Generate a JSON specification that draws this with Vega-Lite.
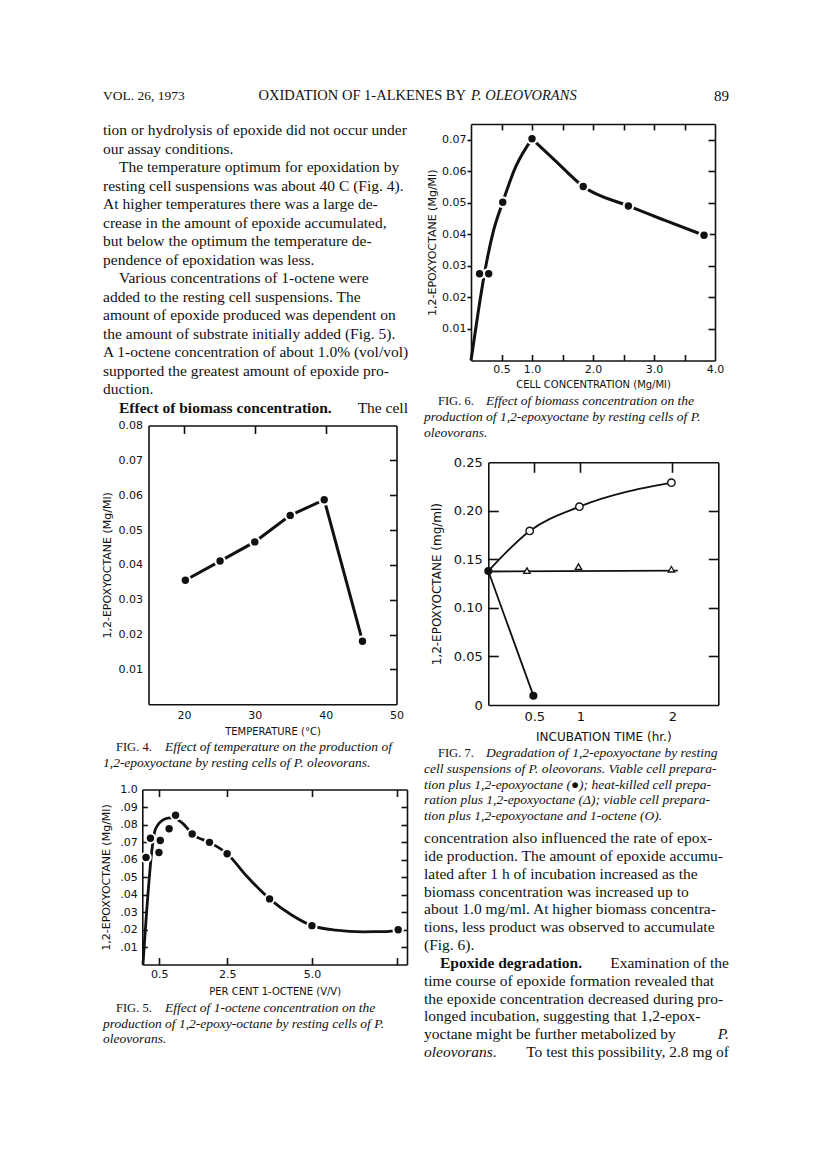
{
"$schema": "https://vega.github.io/schema/vega-lite/v6.json",
"width": 816, "height": 1172, "padding": 0, "autosize": {"type": "none"}, "background": "white",
"config": {
 "view": {"stroke": null},
 "axis": {"grid": false, "domainColor": "#111", "domainWidth": 1.6, "tickColor": "#111", "tickWidth": 1.6, "labelColor": "#111", "labelFont": "DejaVu Sans", "labelFontSize": 11, "titleColor": "#111", "titleFont": "DejaVu Sans", "titleFontSize": 10, "titleFontWeight": "normal", "labelFlush": false, "labelOverlap": false, "labelBound": false, "zindex": 1},
 "text": {"font": "Liberation Serif", "fontSize": 15.5, "color": "#111", "baseline": "middle"},
 "point": {"opacity": 1}
},
"datasets": {
 "hdrL": [{"line": 1, "text": "VOL. 26, 1973"}],
 "hdrR": [{"line": 1, "text": "89"}],
 "hdrTitle": [{"line": 1, "text": "OXIDATION OF 1-ALKENES BY"}],
 "hdrTitleIt": [{"line": 1, "text": "P. OLEOVORANS"}],
 "bodyL": [
  {"line": 1, "text": "tion or hydrolysis of epoxide did not occur under"},
  {"line": 2, "text": "our assay conditions."},
  {"line": 4, "text": "resting cell suspensions was about 40 C (Fig. 4)."},
  {"line": 5, "text": "At higher temperatures there was a large de-"},
  {"line": 6, "text": "crease in the amount of epoxide accumulated,"},
  {"line": 7, "text": "but below the optimum the temperature de-"},
  {"line": 8, "text": "pendence of epoxidation was less."},
  {"line": 10, "text": "added to the resting cell suspensions. The"},
  {"line": 11, "text": "amount of epoxide produced was dependent on"},
  {"line": 12, "text": "the amount of substrate initially added (Fig. 5)."},
  {"line": 13, "text": "A 1-octene concentration of about 1.0% (vol/vol)"},
  {"line": 14, "text": "supported the greatest amount of epoxide pro-"},
  {"line": 15, "text": "duction."}
 ],
 "bodyLInd": [
  {"line": 3, "text": "The temperature optimum for epoxidation by"},
  {"line": 9, "text": "Various concentrations of 1-octene were"}
 ],
 "bodyLBold": [{"line": 16, "text": "Effect of biomass concentration."}],
 "bodyLEnd": [{"line": 16, "text": "The cell"}],
 "bodyR": [
  {"line": 1, "text": "concentration also influenced the rate of epox-"},
  {"line": 2, "text": "ide production. The amount of epoxide accumu-"},
  {"line": 3, "text": "lated after 1 h of incubation increased as the"},
  {"line": 4, "text": "biomass concentration was increased up to"},
  {"line": 5, "text": "about 1.0 mg/ml. At higher biomass concentra-"},
  {"line": 6, "text": "tions, less product was observed to accumulate"},
  {"line": 7, "text": "(Fig. 6)."},
  {"line": 9, "text": "time course of epoxide formation revealed that"},
  {"line": 10, "text": "the epoxide concentration decreased during pro-"},
  {"line": 11, "text": "longed incubation, suggesting that 1,2-epox-"},
  {"line": 12, "text": "yoctane might be further metabolized by"}
 ],
 "bodyRBold": [{"line": 8, "text": "Epoxide degradation."}],
 "bodyREnd": [{"line": 8, "text": "Examination of the"}, {"line": 13, "text": "To test this possibility, 2.8 mg of"}],
 "bodyRIt": [{"line": 13, "text": "oleovorans."}],
 "bodyRItEnd": [{"line": 12, "text": "P."}],
 "cap6Fig": [{"line": 1, "text": "FIG. 6."}],
 "cap6Rest": [{"line": 1, "text": "Effect of biomass concentration on the"}],
 "cap6It": [{"line": 2, "text": "production of 1,2-epoxyoctane by resting cells of P."}, {"line": 3, "text": "oleovorans."}],
 "cap4Fig": [{"line": 1, "text": "FIG. 4."}],
 "cap4Rest": [{"line": 1, "text": "Effect of temperature on the production of"}],
 "cap4It": [{"line": 2, "text": "1,2-epoxyoctane by resting cells of P. oleovorans."}],
 "cap7Fig": [{"line": 1, "text": "FIG. 7."}],
 "cap7Rest": [{"line": 1, "text": "Degradation of 1,2-epoxyoctane by resting"}],
 "cap7It": [
  {"line": 2, "text": "cell suspensions of P. oleovorans. Viable cell prepara-"},
  {"line": 3, "text": "tion plus 1,2-epoxyoctane (\u25cf); heat-killed cell prepa-"},
  {"line": 4, "text": "ration plus 1,2-epoxyoctane (\u0394); viable cell prepara-"},
  {"line": 5, "text": "tion plus 1,2-epoxyoctane and 1-octene (O)."}
 ],
 "cap5Fig": [{"line": 1, "text": "FIG. 5."}],
 "cap5Rest": [{"line": 1, "text": "Effect of 1-octene concentration on the"}],
 "cap5It": [{"line": 2, "text": "production of 1,2-epoxy-octane by resting cells of P."}, {"line": 3, "text": "oleovorans."}],
 "f4": [
  {"temp": 20.2, "epox": 0.0356}, {"temp": 25.1, "epox": 0.0411}, {"temp": 30, "epox": 0.0466},
  {"temp": 35, "epox": 0.0542}, {"temp": 39.8, "epox": 0.0587}, {"temp": 45.2, "epox": 0.0181}
 ],
 "f6pts": [
  {"conc": 0.14, "epox": 0.0275}, {"conc": 0.29, "epox": 0.0275}, {"conc": 0.52, "epox": 0.0502},
  {"conc": 1.0, "epox": 0.0703}, {"conc": 1.84, "epox": 0.0552}, {"conc": 2.58, "epox": 0.049}, {"conc": 3.82, "epox": 0.0397}
 ],
 "f6curve": [
  {"seg": "rise", "conc": 0, "epox": 0}, {"seg": "rise", "conc": 0.12, "epox": 0.0156}, {"seg": "rise", "conc": 0.22, "epox": 0.0275},
  {"seg": "rise", "conc": 0.36, "epox": 0.0405}, {"seg": "rise", "conc": 0.52, "epox": 0.0502}, {"seg": "rise", "conc": 0.73, "epox": 0.0613},
  {"seg": "rise", "conc": 1.0, "epox": 0.0703},
  {"seg": "fall", "conc": 1.0, "epox": 0.0703}, {"seg": "fall", "conc": 1.38, "epox": 0.0634}, {"seg": "fall", "conc": 1.84, "epox": 0.0552},
  {"seg": "fall", "conc": 2.58, "epox": 0.049}, {"seg": "fall", "conc": 3.17, "epox": 0.0445}, {"seg": "fall", "conc": 3.82, "epox": 0.0397}
 ],
 "f7viable": [{"t": 0, "epox": 0.138}, {"t": 0.49, "epox": 0.0096}],
 "f7killed": [{"t": 0.42, "epox": 0.1384}, {"t": 0.98, "epox": 0.1425}, {"t": 1.99, "epox": 0.1398}],
 "f7killedLine": [{"t": 0, "epox": 0.1375}, {"t": 2.06, "epox": 0.1385}],
 "f7octene": [{"t": 0.45, "epox": 0.1793}, {"t": 0.99, "epox": 0.2043}, {"t": 1.99, "epox": 0.229}],
 "f7octeneCurve": [{"t": 0, "epox": 0.138}, {"t": 0.45, "epox": 0.1793}, {"t": 0.99, "epox": 0.2043}, {"t": 1.99, "epox": 0.229}],
 "f5pts": [
  {"pct": 0.11, "epox": 0.0612}, {"pct": 0.24, "epox": 0.0721}, {"pct": 0.49, "epox": 0.064}, {"pct": 0.53, "epox": 0.0709},
  {"pct": 0.79, "epox": 0.0776}, {"pct": 0.98, "epox": 0.0853}, {"pct": 1.47, "epox": 0.0746}, {"pct": 1.98, "epox": 0.0698},
  {"pct": 2.5, "epox": 0.0633}, {"pct": 3.75, "epox": 0.0375}, {"pct": 5.0, "epox": 0.0222}, {"pct": 7.54, "epox": 0.0199}
 ],
 "f5curve": [
  {"pct": 0.02, "epox": 0}, {"pct": 0.3, "epox": 0.068}, {"pct": 0.36, "epox": 0.0755}, {"pct": 0.45, "epox": 0.0795},
  {"pct": 0.6, "epox": 0.0825}, {"pct": 0.8, "epox": 0.0838}, {"pct": 0.95, "epox": 0.0835}, {"pct": 1.2, "epox": 0.0805},
  {"pct": 1.47, "epox": 0.0746}, {"pct": 1.98, "epox": 0.0698}, {"pct": 2.5, "epox": 0.0633}, {"pct": 3.1, "epox": 0.05},
  {"pct": 3.75, "epox": 0.0375}, {"pct": 4.4, "epox": 0.0283}, {"pct": 5.0, "epox": 0.0222}, {"pct": 5.7, "epox": 0.0196},
  {"pct": 6.5, "epox": 0.0187}, {"pct": 7.2, "epox": 0.0188}, {"pct": 7.54, "epox": 0.0199}
 ]
},
"layer": [
 {"layer": [
  {"data": {"name": "hdrL"}, "mark": {"type": "text", "align": "left", "fontSize": 13.5},
   "encoding": {"x": {"datum": "a", "type": "nominal", "scale": {"type": "point", "domain": ["a"], "range": [103, 103], "padding": 0}, "axis": null},
    "y": {"field": "line", "type": "quantitative", "scale": {"domain": [1, 2], "range": [96, 112], "nice": false, "zero": false}, "axis": null},
    "text": {"field": "text", "type": "nominal"}}},
  {"data": {"name": "hdrR"}, "mark": {"type": "text", "align": "right", "fontSize": 15},
   "encoding": {"x": {"datum": "a", "type": "nominal", "scale": {"type": "point", "domain": ["a"], "range": [729, 729], "padding": 0}, "axis": null},
    "y": {"field": "line", "type": "quantitative", "scale": {"domain": [1, 2], "range": [96, 112], "nice": false, "zero": false}, "axis": null},
    "text": {"field": "text", "type": "nominal"}}},
  {"data": {"name": "hdrTitle"}, "mark": {"type": "text", "align": "right", "fontSize": 14.5},
   "encoding": {"x": {"datum": "a", "type": "nominal", "scale": {"type": "point", "domain": ["a"], "range": [466, 466], "padding": 0}, "axis": null},
    "y": {"field": "line", "type": "quantitative", "scale": {"domain": [1, 2], "range": [96, 112], "nice": false, "zero": false}, "axis": null},
    "text": {"field": "text", "type": "nominal"}}},
  {"data": {"name": "hdrTitleIt"}, "mark": {"type": "text", "align": "left", "fontSize": 14.5, "fontStyle": "italic"},
   "encoding": {"x": {"datum": "a", "type": "nominal", "scale": {"type": "point", "domain": ["a"], "range": [471, 471], "padding": 0}, "axis": null},
    "y": {"field": "line", "type": "quantitative", "scale": {"domain": [1, 2], "range": [96, 112], "nice": false, "zero": false}, "axis": null},
    "text": {"field": "text", "type": "nominal"}}}
 ], "resolve": {"scale": {"x": "independent"}}},
 {"layer": [
  {"data": {"name": "bodyL"}, "mark": {"type": "text", "align": "left"},
   "encoding": {"x": {"datum": "a", "type": "nominal", "scale": {"type": "point", "domain": ["a"], "range": [103, 103], "padding": 0}, "axis": null},
    "y": {"field": "line", "type": "quantitative", "scale": {"domain": [1, 16], "range": [130, 408], "nice": false, "zero": false}, "axis": null},
    "text": {"field": "text", "type": "nominal"}}},
  {"data": {"name": "bodyLInd"}, "mark": {"type": "text", "align": "left"},
   "encoding": {"x": {"datum": "a", "type": "nominal", "scale": {"type": "point", "domain": ["a"], "range": [119, 119], "padding": 0}, "axis": null},
    "y": {"field": "line", "type": "quantitative", "scale": {"domain": [1, 16], "range": [130, 408], "nice": false, "zero": false}, "axis": null},
    "text": {"field": "text", "type": "nominal"}}},
  {"data": {"name": "bodyLBold"}, "mark": {"type": "text", "align": "left", "fontWeight": "bold"},
   "encoding": {"x": {"datum": "a", "type": "nominal", "scale": {"type": "point", "domain": ["a"], "range": [119, 119], "padding": 0}, "axis": null},
    "y": {"field": "line", "type": "quantitative", "scale": {"domain": [1, 16], "range": [130, 408], "nice": false, "zero": false}, "axis": null},
    "text": {"field": "text", "type": "nominal"}}},
  {"data": {"name": "bodyLEnd"}, "mark": {"type": "text", "align": "right"},
   "encoding": {"x": {"datum": "a", "type": "nominal", "scale": {"type": "point", "domain": ["a"], "range": [408, 408], "padding": 0}, "axis": null},
    "y": {"field": "line", "type": "quantitative", "scale": {"domain": [1, 16], "range": [130, 408], "nice": false, "zero": false}, "axis": null},
    "text": {"field": "text", "type": "nominal"}}}
 ], "resolve": {"scale": {"x": "independent"}}},
 {"layer": [
  {"data": {"name": "bodyR"}, "mark": {"type": "text", "align": "left"},
   "encoding": {"x": {"datum": "a", "type": "nominal", "scale": {"type": "point", "domain": ["a"], "range": [424, 424], "padding": 0}, "axis": null},
    "y": {"field": "line", "type": "quantitative", "scale": {"domain": [1, 13], "range": [838, 1052], "nice": false, "zero": false}, "axis": null},
    "text": {"field": "text", "type": "nominal"}}},
  {"data": {"name": "bodyRBold"}, "mark": {"type": "text", "align": "left", "fontWeight": "bold"},
   "encoding": {"x": {"datum": "a", "type": "nominal", "scale": {"type": "point", "domain": ["a"], "range": [440, 440], "padding": 0}, "axis": null},
    "y": {"field": "line", "type": "quantitative", "scale": {"domain": [1, 13], "range": [838, 1052], "nice": false, "zero": false}, "axis": null},
    "text": {"field": "text", "type": "nominal"}}},
  {"data": {"name": "bodyREnd"}, "mark": {"type": "text", "align": "right"},
   "encoding": {"x": {"datum": "a", "type": "nominal", "scale": {"type": "point", "domain": ["a"], "range": [729, 729], "padding": 0}, "axis": null},
    "y": {"field": "line", "type": "quantitative", "scale": {"domain": [1, 13], "range": [838, 1052], "nice": false, "zero": false}, "axis": null},
    "text": {"field": "text", "type": "nominal"}}},
  {"data": {"name": "bodyRIt"}, "mark": {"type": "text", "align": "left", "fontStyle": "italic"},
   "encoding": {"x": {"datum": "a", "type": "nominal", "scale": {"type": "point", "domain": ["a"], "range": [424, 424], "padding": 0}, "axis": null},
    "y": {"field": "line", "type": "quantitative", "scale": {"domain": [1, 13], "range": [838, 1052], "nice": false, "zero": false}, "axis": null},
    "text": {"field": "text", "type": "nominal"}}},
  {"data": {"name": "bodyRItEnd"}, "mark": {"type": "text", "align": "right", "fontStyle": "italic"},
   "encoding": {"x": {"datum": "a", "type": "nominal", "scale": {"type": "point", "domain": ["a"], "range": [729, 729], "padding": 0}, "axis": null},
    "y": {"field": "line", "type": "quantitative", "scale": {"domain": [1, 13], "range": [838, 1052], "nice": false, "zero": false}, "axis": null},
    "text": {"field": "text", "type": "nominal"}}}
 ], "resolve": {"scale": {"x": "independent"}}},
 {"layer": [
  {"data": {"name": "cap6Fig"}, "mark": {"type": "text", "align": "left", "fontSize": 12.5},
   "encoding": {"x": {"datum": "a", "type": "nominal", "scale": {"type": "point", "domain": ["a"], "range": [438, 438], "padding": 0}, "axis": null},
    "y": {"field": "line", "type": "quantitative", "scale": {"domain": [1, 3], "range": [401, 433], "nice": false, "zero": false}, "axis": null},
    "text": {"field": "text", "type": "nominal"}}},
  {"data": {"name": "cap6Rest"}, "mark": {"type": "text", "align": "left", "fontSize": 13.5, "fontStyle": "italic"},
   "encoding": {"x": {"datum": "a", "type": "nominal", "scale": {"type": "point", "domain": ["a"], "range": [486, 486], "padding": 0}, "axis": null},
    "y": {"field": "line", "type": "quantitative", "scale": {"domain": [1, 3], "range": [401, 433], "nice": false, "zero": false}, "axis": null},
    "text": {"field": "text", "type": "nominal"}}},
  {"data": {"name": "cap6It"}, "mark": {"type": "text", "align": "left", "fontSize": 13.5, "fontStyle": "italic"},
   "encoding": {"x": {"datum": "a", "type": "nominal", "scale": {"type": "point", "domain": ["a"], "range": [424, 424], "padding": 0}, "axis": null},
    "y": {"field": "line", "type": "quantitative", "scale": {"domain": [1, 3], "range": [401, 433], "nice": false, "zero": false}, "axis": null},
    "text": {"field": "text", "type": "nominal"}}}
 ], "resolve": {"scale": {"x": "independent"}}},
 {"layer": [
  {"data": {"name": "cap4Fig"}, "mark": {"type": "text", "align": "left", "fontSize": 12.5},
   "encoding": {"x": {"datum": "a", "type": "nominal", "scale": {"type": "point", "domain": ["a"], "range": [116, 116], "padding": 0}, "axis": null},
    "y": {"field": "line", "type": "quantitative", "scale": {"domain": [1, 2], "range": [747, 763], "nice": false, "zero": false}, "axis": null},
    "text": {"field": "text", "type": "nominal"}}},
  {"data": {"name": "cap4Rest"}, "mark": {"type": "text", "align": "left", "fontSize": 13.5, "fontStyle": "italic"},
   "encoding": {"x": {"datum": "a", "type": "nominal", "scale": {"type": "point", "domain": ["a"], "range": [165, 165], "padding": 0}, "axis": null},
    "y": {"field": "line", "type": "quantitative", "scale": {"domain": [1, 2], "range": [747, 763], "nice": false, "zero": false}, "axis": null},
    "text": {"field": "text", "type": "nominal"}}},
  {"data": {"name": "cap4It"}, "mark": {"type": "text", "align": "left", "fontSize": 13.5, "fontStyle": "italic"},
   "encoding": {"x": {"datum": "a", "type": "nominal", "scale": {"type": "point", "domain": ["a"], "range": [103, 103], "padding": 0}, "axis": null},
    "y": {"field": "line", "type": "quantitative", "scale": {"domain": [1, 2], "range": [747, 763], "nice": false, "zero": false}, "axis": null},
    "text": {"field": "text", "type": "nominal"}}}
 ], "resolve": {"scale": {"x": "independent"}}},
 {"layer": [
  {"data": {"name": "cap7Fig"}, "mark": {"type": "text", "align": "left", "fontSize": 12.5},
   "encoding": {"x": {"datum": "a", "type": "nominal", "scale": {"type": "point", "domain": ["a"], "range": [438, 438], "padding": 0}, "axis": null},
    "y": {"field": "line", "type": "quantitative", "scale": {"domain": [1, 5], "range": [753, 816], "nice": false, "zero": false}, "axis": null},
    "text": {"field": "text", "type": "nominal"}}},
  {"data": {"name": "cap7Rest"}, "mark": {"type": "text", "align": "left", "fontSize": 13.5, "fontStyle": "italic"},
   "encoding": {"x": {"datum": "a", "type": "nominal", "scale": {"type": "point", "domain": ["a"], "range": [486, 486], "padding": 0}, "axis": null},
    "y": {"field": "line", "type": "quantitative", "scale": {"domain": [1, 5], "range": [753, 816], "nice": false, "zero": false}, "axis": null},
    "text": {"field": "text", "type": "nominal"}}},
  {"data": {"name": "cap7It"}, "mark": {"type": "text", "align": "left", "fontSize": 13.5, "fontStyle": "italic"},
   "encoding": {"x": {"datum": "a", "type": "nominal", "scale": {"type": "point", "domain": ["a"], "range": [424, 424], "padding": 0}, "axis": null},
    "y": {"field": "line", "type": "quantitative", "scale": {"domain": [1, 5], "range": [753, 816], "nice": false, "zero": false}, "axis": null},
    "text": {"field": "text", "type": "nominal"}}}
 ], "resolve": {"scale": {"x": "independent"}}},
 {"layer": [
  {"data": {"name": "cap5Fig"}, "mark": {"type": "text", "align": "left", "fontSize": 12.5},
   "encoding": {"x": {"datum": "a", "type": "nominal", "scale": {"type": "point", "domain": ["a"], "range": [116, 116], "padding": 0}, "axis": null},
    "y": {"field": "line", "type": "quantitative", "scale": {"domain": [1, 3], "range": [1008, 1039], "nice": false, "zero": false}, "axis": null},
    "text": {"field": "text", "type": "nominal"}}},
  {"data": {"name": "cap5Rest"}, "mark": {"type": "text", "align": "left", "fontSize": 13.5, "fontStyle": "italic"},
   "encoding": {"x": {"datum": "a", "type": "nominal", "scale": {"type": "point", "domain": ["a"], "range": [165, 165], "padding": 0}, "axis": null},
    "y": {"field": "line", "type": "quantitative", "scale": {"domain": [1, 3], "range": [1008, 1039], "nice": false, "zero": false}, "axis": null},
    "text": {"field": "text", "type": "nominal"}}},
  {"data": {"name": "cap5It"}, "mark": {"type": "text", "align": "left", "fontSize": 13.5, "fontStyle": "italic"},
   "encoding": {"x": {"datum": "a", "type": "nominal", "scale": {"type": "point", "domain": ["a"], "range": [103, 103], "padding": 0}, "axis": null},
    "y": {"field": "line", "type": "quantitative", "scale": {"domain": [1, 3], "range": [1008, 1039], "nice": false, "zero": false}, "axis": null},
    "text": {"field": "text", "type": "nominal"}}}
 ], "resolve": {"scale": {"x": "independent"}}},
 {"layer": [
  {"data": {"name": "f4"}, "mark": {"type": "line", "color": "#111", "strokeWidth": 3},
   "encoding": {
    "x": {"field": "temp", "type": "quantitative", "scale": {"domain": [15, 50], "range": [148.5, 396.5], "nice": false, "zero": false},
     "axis": {"orient": "bottom", "offset": -467.7, "values": [20, 30, 40, 50], "format": "d", "ticks": false, "labelPadding": 5, "title": "TEMPERATURE (°C)", "titlePadding": 6}},
    "y": {"field": "epox", "type": "quantitative", "scale": {"domain": [0, 0.08], "range": [704.3, 425.5], "nice": false, "zero": false},
     "axis": {"orient": "left", "offset": -148.5, "values": [0.01, 0.02, 0.03, 0.04, 0.05, 0.06, 0.07, 0.08], "format": ".2f", "ticks": false, "labelPadding": 6, "title": "1,2-EPOXYOCTANE (Mg/Ml)", "titleFontSize": 11, "titlePadding": 6}}}},
  {"data": {"name": "f4"}, "mark": {"type": "point", "filled": true, "color": "white", "size": 140},
   "encoding": {
    "x": {"field": "temp", "type": "quantitative", "scale": {"domain": [15, 50], "range": [148.5, 396.5], "nice": false, "zero": false},
     "axis": {"orient": "top", "offset": -425.5, "values": [20, 30, 40], "labels": false, "tickSize": -8, "title": null}},
    "y": {"field": "epox", "type": "quantitative", "scale": {"domain": [0, 0.08], "range": [704.3, 425.5], "nice": false, "zero": false},
     "axis": {"orient": "right", "offset": -419.5, "values": [0.01, 0.02, 0.03, 0.04, 0.05, 0.06, 0.07], "labels": false, "tickSize": -7, "title": null}}}},
  {"data": {"name": "f4"}, "mark": {"type": "point", "filled": true, "color": "#111", "size": 55},
   "encoding": {
    "x": {"field": "temp", "type": "quantitative", "scale": {"domain": [15, 50], "range": [148.5, 396.5], "nice": false, "zero": false}, "axis": null},
    "y": {"field": "epox", "type": "quantitative", "scale": {"domain": [0, 0.08], "range": [704.3, 425.5], "nice": false, "zero": false}, "axis": null}}}
 ], "resolve": {"axis": {"x": "independent", "y": "independent"}}},
 {"layer": [
  {"data": {"name": "f6curve"}, "mark": {"type": "line", "color": "#111", "strokeWidth": 3, "interpolate": "monotone"},
   "encoding": {
    "detail": {"field": "seg", "type": "nominal"},
    "x": {"field": "conc", "type": "quantitative", "scale": {"domain": [0, 4], "range": [471, 715], "nice": false, "zero": false},
     "axis": {"orient": "bottom", "offset": -811.5, "values": [0.5, 1, 2, 3, 4], "format": ".1f", "ticks": false, "labelPadding": 3, "title": "CELL CONCENTRATION (Mg/Ml)", "titlePadding": 5}},
    "y": {"field": "epox", "type": "quantitative", "scale": {"domain": [0, 0.075], "range": [360.5, 124], "nice": false, "zero": false},
     "axis": {"orient": "left", "offset": -471, "values": [0.01, 0.02, 0.03, 0.04, 0.05, 0.06, 0.07], "format": ".2f", "tickSize": 4, "labelPadding": 1, "title": "1,2-EPOXYOCTANE (Mg/Ml)", "titleFontSize": 11, "titlePadding": 4}}}},
  {"data": {"name": "f6pts"}, "mark": {"type": "point", "filled": true, "color": "white", "size": 140},
   "encoding": {
    "x": {"field": "conc", "type": "quantitative", "scale": {"domain": [0, 4], "range": [471, 715], "nice": false, "zero": false},
     "axis": {"orient": "top", "offset": -124, "values": [0.5, 1, 1.5, 2, 2.5, 3, 3.5], "labels": false, "tickSize": -6, "title": null}},
    "y": {"field": "epox", "type": "quantitative", "scale": {"domain": [0, 0.075], "range": [360.5, 124], "nice": false, "zero": false},
     "axis": {"orient": "right", "offset": -101, "values": [0.01, 0.02, 0.03, 0.04, 0.05, 0.06, 0.07], "labels": false, "tickSize": -7, "title": null}}}},
  {"data": {"name": "f6pts"}, "mark": {"type": "point", "filled": true, "color": "#111", "size": 55},
   "encoding": {
    "x": {"field": "conc", "type": "quantitative", "scale": {"domain": [0, 4], "range": [471, 715], "nice": false, "zero": false},
     "axis": {"orient": "bottom", "offset": -811.5, "values": [0.5, 1, 1.5, 2, 2.5, 3, 3.5], "labels": false, "domain": false, "tickSize": -6, "title": null}},
    "y": {"field": "epox", "type": "quantitative", "scale": {"domain": [0, 0.075], "range": [360.5, 124], "nice": false, "zero": false}, "axis": null}}}
 ], "resolve": {"axis": {"x": "independent", "y": "independent"}}},
 {"layer": [
  {"data": {"name": "f7octeneCurve"}, "mark": {"type": "line", "color": "#111", "strokeWidth": 1.8, "interpolate": "monotone"},
   "encoding": {
    "x": {"field": "t", "type": "quantitative", "scale": {"domain": [0, 2.5], "range": [488.3, 718.3], "nice": false, "zero": false},
     "axis": {"orient": "bottom", "offset": -467, "values": [0.5, 1, 2], "format": ".1~f", "ticks": false, "labelPadding": 5, "labelFontSize": 13, "title": "INCUBATION TIME (hr.)", "titleFontSize": 12, "titlePadding": 8}},
    "y": {"field": "epox", "type": "quantitative", "scale": {"domain": [0, 0.25], "range": [705, 462.3], "nice": false, "zero": false},
     "axis": {"orient": "left", "offset": -488.3, "values": [0, 0.05, 0.1, 0.15, 0.2, 0.25], "labelExpr": "datum.value == 0 ? '0' : format(datum.value, '.2f')", "ticks": false, "labelPadding": 6, "labelFontSize": 13, "title": "1,2-EPOXYOCTANE (mg/ml)", "titleFontSize": 12, "titlePadding": 10}}}},
  {"data": {"name": "f7killedLine"}, "mark": {"type": "line", "color": "#111", "strokeWidth": 1.8},
   "encoding": {
    "x": {"field": "t", "type": "quantitative", "scale": {"domain": [0, 2.5], "range": [488.3, 718.3], "nice": false, "zero": false},
     "axis": {"orient": "top", "offset": -462.3, "values": [0.5, 1, 2], "labels": false, "tickSize": -10, "title": null}},
    "y": {"field": "epox", "type": "quantitative", "scale": {"domain": [0, 0.25], "range": [705, 462.3], "nice": false, "zero": false},
     "axis": {"orient": "right", "offset": -97.7, "values": [0.05, 0.1, 0.15, 0.2], "labels": false, "tickSize": -10, "title": null}}}},
  {"data": {"name": "f7viable"}, "mark": {"type": "line", "color": "#111", "strokeWidth": 1.8},
   "encoding": {
    "x": {"field": "t", "type": "quantitative", "scale": {"domain": [0, 2.5], "range": [488.3, 718.3], "nice": false, "zero": false}, "axis": null},
    "y": {"field": "epox", "type": "quantitative", "scale": {"domain": [0, 0.25], "range": [705, 462.3], "nice": false, "zero": false},
     "axis": {"orient": "left", "offset": -488.3, "values": [0.05, 0.1, 0.15, 0.2], "labels": false, "domain": false, "tickSize": -10, "title": null}}}},
  {"data": {"name": "f7octene"}, "mark": {"type": "point", "shape": "circle", "filled": true, "fill": "white", "stroke": "#111", "strokeWidth": 1.4, "size": 55},
   "encoding": {
    "x": {"field": "t", "type": "quantitative", "scale": {"domain": [0, 2.5], "range": [488.3, 718.3], "nice": false, "zero": false}, "axis": null},
    "y": {"field": "epox", "type": "quantitative", "scale": {"domain": [0, 0.25], "range": [705, 462.3], "nice": false, "zero": false}, "axis": null}}},
  {"data": {"name": "f7killed"}, "mark": {"type": "point", "shape": "triangle-up", "filled": true, "fill": "white", "stroke": "#111", "strokeWidth": 1.3, "size": 40},
   "encoding": {
    "x": {"field": "t", "type": "quantitative", "scale": {"domain": [0, 2.5], "range": [488.3, 718.3], "nice": false, "zero": false}, "axis": null},
    "y": {"field": "epox", "type": "quantitative", "scale": {"domain": [0, 0.25], "range": [705, 462.3], "nice": false, "zero": false}, "axis": null}}},
  {"data": {"name": "f7viable"}, "mark": {"type": "point", "filled": true, "color": "#111", "size": 65},
   "encoding": {
    "x": {"field": "t", "type": "quantitative", "scale": {"domain": [0, 2.5], "range": [488.3, 718.3], "nice": false, "zero": false}, "axis": null},
    "y": {"field": "epox", "type": "quantitative", "scale": {"domain": [0, 0.25], "range": [705, 462.3], "nice": false, "zero": false}, "axis": null}}}
 ], "resolve": {"axis": {"x": "independent", "y": "independent"}}},
 {"layer": [
  {"data": {"name": "f5curve"}, "mark": {"type": "line", "color": "#111", "strokeWidth": 2.8, "interpolate": "monotone"},
   "encoding": {
    "x": {"field": "pct", "type": "quantitative", "scale": {"domain": [0, 7.8], "range": [142.3, 407], "nice": false, "zero": false},
     "axis": {"orient": "bottom", "offset": -207.5, "values": [0.5, 2.5, 5], "format": ".1f", "ticks": false, "labelPadding": 4, "title": "PER CENT 1-OCTENE (V/V)", "titlePadding": 7}},
    "y": {"field": "epox", "type": "quantitative", "scale": {"domain": [0, 0.1], "range": [964.5, 789.5], "nice": false, "zero": false},
     "axis": {"orient": "left", "offset": -142.3, "values": [0.01, 0.02, 0.03, 0.04, 0.05, 0.06, 0.07, 0.08, 0.09, 0.1], "labelExpr": "datum.value > 0.095 ? '1.0' : replace(format(datum.value, '.2f'), '0.', '.')", "ticks": false, "labelPadding": 5, "title": "1,2-EPOXYOCTANE (Mg/Ml)", "titleFontSize": 11, "titlePadding": 8}}}},
  {"data": {"name": "f5pts"}, "mark": {"type": "point", "filled": true, "color": "white", "size": 130},
   "encoding": {
    "x": {"field": "pct", "type": "quantitative", "scale": {"domain": [0, 7.8], "range": [142.3, 407], "nice": false, "zero": false},
     "axis": {"orient": "top", "offset": -789.5, "values": [0.5, 2.5, 5, 7.5], "labels": false, "tickSize": -7, "title": null}},
    "y": {"field": "epox", "type": "quantitative", "scale": {"domain": [0, 0.1], "range": [964.5, 789.5], "nice": false, "zero": false},
     "axis": {"orient": "right", "offset": -409, "values": [0.01, 0.02, 0.03, 0.04, 0.05, 0.06, 0.07, 0.08, 0.09], "labels": false, "tickSize": -6, "title": null}}}},
  {"data": {"name": "f5pts"}, "mark": {"type": "point", "filled": true, "color": "#111", "size": 55},
   "encoding": {
    "x": {"field": "pct", "type": "quantitative", "scale": {"domain": [0, 7.8], "range": [142.3, 407], "nice": false, "zero": false},
     "axis": {"orient": "bottom", "offset": -207.5, "values": [0.5, 2.5, 5, 7.5], "labels": false, "domain": false, "tickSize": -7, "title": null}},
    "y": {"field": "epox", "type": "quantitative", "scale": {"domain": [0, 0.1], "range": [964.5, 789.5], "nice": false, "zero": false},
     "axis": {"orient": "left", "offset": -142.3, "values": [0.01, 0.02, 0.03, 0.04, 0.05, 0.06, 0.07, 0.08, 0.09], "labels": false, "domain": false, "tickSize": -5, "title": null}}}}
 ], "resolve": {"axis": {"x": "independent", "y": "independent"}}}
],
"resolve": {"scale": {"x": "independent", "y": "independent"}}
}
